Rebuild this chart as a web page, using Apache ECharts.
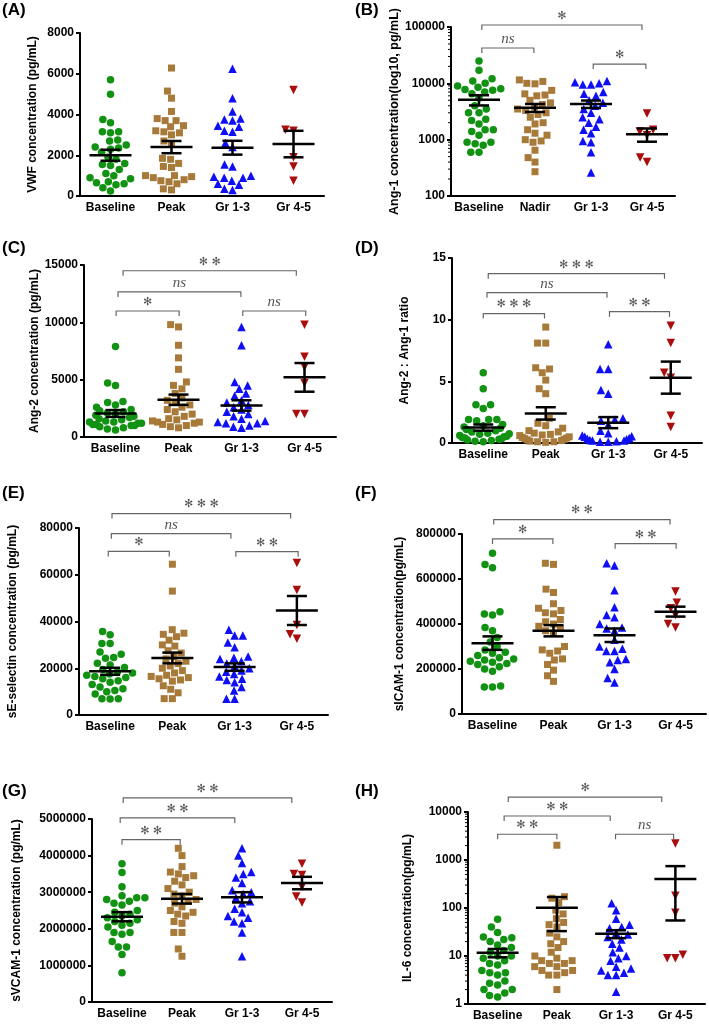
<!DOCTYPE html>
<html><head><meta charset="utf-8">
<script src="https://cdn.jsdelivr.net/npm/echarts@6/dist/echarts.min.js"></script>
<style>html,body{margin:0;padding:0;background:#fff}#c{width:709px;height:1027px}</style>
</head><body><div id="c"></div>
<script>
// ---------- categories ----------
const groupNames = ['Baseline', 'Peak', 'Gr 1-3', 'Gr 4-5'];
const groupNamesB = ['Baseline', 'Nadir', 'Gr 1-3', 'Gr 4-5'];

// ---------- (A) VWF ----------
const vwfBaseline = [5700, 5000, 3750, 3600, 3150, 3150, 3100, 2750, 2700, 2500, 2400, 2350, 2300, 2150, 1900, 1800, 1600, 1550, 1500, 1300, 1100, 1000, 900, 850, 700, 650, 600, 550, 400, 250];
const vwfPeak = [6280, 5150, 4800, 4150, 3800, 3700, 3700, 3450, 3400, 3200, 3150, 3100, 3000, 2700, 2550, 1850, 1800, 1600, 1450, 1400, 1000, 1000, 950, 900, 800, 750, 700, 600, 350, 300];
const vwfGr13 = [6250, 4800, 4150, 3800, 3750, 3700, 3450, 3400, 3200, 3150, 2600, 2400, 1550, 1450, 1000, 950, 900, 900, 750, 600, 550, 350, 300];
const vwfGr45 = [5200, 3250, 3200, 1900, 1450, 750];
const vwfMean = [2000, 2400, 2370, 2550];
const vwfSem = [270, 300, 340, 650];
const vwfTicks = [0, 8000, 2000];

// ---------- (B) Ang-1 ----------
const ang1Baseline = [25000, 17000, 12000, 11000, 9000, 10000, 7000, 6500, 8500, 8000, 7800, 7500, 5500, 4000, 3500, 3000, 3000, 2300, 2200, 1900, 1500, 1500, 1400, 1200, 900, 900, 850, 800, 600, 600];
const ang1Nadir = [11500, 10800, 10000, 9800, 7500, 6500, 6200, 6000, 5000, 4500, 4200, 3800, 3500, 3300, 3000, 2800, 2500, 2000, 1900, 1500, 1300, 1200, 1000, 950, 900, 650, 480, 400, 270];
const ang1Gr13 = [11000, 10500, 10000, 9500, 9500, 7000, 6500, 6000, 5000, 4500, 4000, 3500, 3000, 2500, 2300, 2000, 1700, 1500, 1300, 950, 900, 600, 260];
const ang1Gr45 = [2900, 1500, 1400, 1200, 480, 400];
const ang1Mean = [5100, 3700, 4300, 1250];
const ang1Sem = [1050, 600, 650, 330];
const ang1Ticks = [100, 100000];
const ang1Brackets = [[1.05, 3.91, 108500, '*'], [1.05, 1.98, 42400, 'ns'], [3.04, 3.98, 22000, '*']];

// ---------- (C) Ang-2 ----------
const ang2Baseline = [7900, 4700, 4500, 3100, 3000, 2800, 2600, 2400, 2300, 2200, 2100, 2000, 1900, 1800, 1700, 1600, 1500, 1400, 1300, 1300, 1200, 1200, 1100, 1100, 1000, 1000, 900, 800, 700, 600];
const ang2Peak = [9800, 9600, 8000, 6900, 5900, 4800, 4500, 4200, 3800, 3400, 3200, 3000, 2800, 2600, 2400, 2200, 2000, 1800, 1600, 1500, 1400, 1300, 1300, 1200, 1100, 1000, 900, 800];
const ang2Gr13 = [9600, 8000, 4800, 4500, 4200, 3800, 3600, 3200, 3000, 2800, 2600, 2400, 2200, 2000, 1800, 1600, 1400, 1300, 1200, 1200, 1000, 900, 800];
const ang2Gr45 = [9800, 7000, 6100, 4700, 2000, 2000];
const ang2Mean = [2050, 3250, 2750, 5200];
const ang2Sem = [300, 450, 450, 1250];
const ang2Ticks = [0, 15000, 5000];
const ang2Brackets = [[1.12, 3.87, 14500, '**'], [1.04, 2.99, 12650, 'ns'], [1.01, 2.01, 10990, '*'], [3.02, 4.02, 10990, 'ns']];

// ---------- (D) Ang-2 : Ang-1 ratio ----------
const ratioBaseline = [5.7, 4.4, 3.1, 3.1, 2.8, 1.9, 1.9, 1.9, 1.8, 1.5, 1.4, 1.3, 1.2, 1.1, 1.0, 0.9, 0.8, 0.75, 0.7, 0.6, 0.55, 0.5, 0.45, 0.4, 0.35, 0.3, 0.25, 0.2, 0.15, 0.1];
const ratioPeak = [9.4, 8.1, 8.1, 6.1, 6.0, 5.7, 5.1, 4.4, 4.0, 2.0, 1.6, 1.4, 1.2, 1.0, 0.9, 0.8, 0.7, 0.65, 0.6, 0.5, 0.45, 0.4, 0.35, 0.3, 0.25, 0.2, 0.15, 0.1, 0.1, 0.05];
const ratioGr13 = [8.0, 6.0, 6.0, 4.3, 4.0, 2.0, 1.9, 1.8, 1.5, 1.0, 0.8, 0.6, 0.55, 0.5, 0.4, 0.35, 0.3, 0.25, 0.2, 0.2, 0.15, 0.1, 0.1];
const ratioGr45 = [9.5, 8.1, 5.7, 5.3, 2.2, 1.3];
const ratioMean = [1.25, 2.4, 1.65, 5.3];
const ratioSem = [0.25, 0.5, 0.45, 1.3];
const ratioTicks = [0, 15, 5];
const ratioBrackets = [[1.08, 3.90, 13.73, '***'], [1.06, 2.98, 12.19, 'ns'], [1.0, 1.98, 10.49, '***'], [3.02, 3.98, 10.65, '**']];

// ---------- (E) sE-selectin ----------
const seBaseline = [35700, 34300, 30600, 30600, 26900, 26000, 24600, 24300, 22100, 21400, 20300, 19500, 18500, 18000, 17500, 17000, 16500, 16000, 15500, 14700, 14000, 13000, 12000, 11200, 10500, 10000, 9000, 7000, 7000, 6800];
const sePeak = [64500, 53000, 36500, 35000, 34500, 33500, 32000, 30000, 29500, 27500, 26500, 25000, 24000, 23000, 22000, 21000, 20000, 19000, 18000, 17000, 16500, 16000, 15500, 15000, 14500, 12500, 11000, 9500, 7000, 7000];
const seGr13 = [36500, 34000, 34000, 31000, 29000, 25000, 24500, 24000, 23000, 22000, 21000, 20000, 19000, 18500, 17500, 16500, 15500, 15000, 14000, 12000, 10500, 7000, 7000];
const seGr45 = [65000, 53500, 38500, 34500, 32600];
const seMean = [18700, 24400, 20500, 44700];
const seSem = [1500, 2300, 1600, 6200];
const seTicks = [0, 80000, 20000];
const seBrackets = [[1.03, 3.90, 86150, '***'], [1.02, 2.94, 77580, 'ns'], [0.97, 1.95, 70000, '*'], [3.02, 4.02, 69860, '**']];

// ---------- (F) sICAM-1 ----------
const icamBaseline = [715000, 665000, 650000, 455000, 445000, 440000, 385000, 370000, 340000, 320000, 300000, 285000, 275000, 270000, 260000, 250000, 245000, 240000, 235000, 230000, 225000, 220000, 210000, 200000, 190000, 125000, 120000, 120000];
const icamPeak = [670000, 665000, 555000, 540000, 490000, 470000, 460000, 450000, 445000, 420000, 410000, 400000, 390000, 380000, 370000, 360000, 300000, 285000, 280000, 270000, 245000, 240000, 220000, 195000, 170000, 145000];
const icamGr13 = [670000, 660000, 550000, 475000, 440000, 430000, 400000, 385000, 380000, 370000, 330000, 300000, 290000, 280000, 280000, 245000, 240000, 230000, 200000, 160000, 140000];
const icamGr45 = [545000, 495000, 470000, 440000, 400000, 385000];
const icamMean = [315000, 370000, 350000, 455000];
const icamSem = [30000, 25000, 30000, 22000];
const icamTicks = [0, 800000, 200000];
const icamBrackets = [[1.02, 3.91, 864000, '**'], [1.0, 1.99, 778000, '*'], [3.01, 4.01, 757000, '**']];

// ---------- (G) sVCAM-1 ----------
const vcamBaseline = [3780000, 3540000, 3150000, 2900000, 2850000, 2850000, 2800000, 2750000, 2700000, 2650000, 2500000, 2450000, 2400000, 2350000, 2300000, 2250000, 2200000, 2150000, 2100000, 2050000, 1900000, 1900000, 1850000, 1650000, 1500000, 1500000, 1300000, 800000];
const vcamPeak = [4200000, 4000000, 3700000, 3550000, 3500000, 3450000, 3400000, 3300000, 3200000, 3100000, 3000000, 2950000, 2900000, 2800000, 2750000, 2700000, 2600000, 2500000, 2450000, 2400000, 2350000, 2200000, 2150000, 1900000, 1900000, 1450000, 1250000];
const vcamGr13 = [4200000, 4000000, 3800000, 3550000, 3500000, 3400000, 3250000, 3050000, 3000000, 2950000, 2850000, 2750000, 2700000, 2550000, 2450000, 2350000, 2300000, 2200000, 2150000, 1900000, 1250000];
const vcamGr45 = [3780000, 3500000, 3470000, 3150000, 2880000, 2720000];
const vcamMean = [2330000, 2820000, 2860000, 3250000];
const vcamSem = [125000, 130000, 140000, 170000];
const vcamTicks = [0, 5000000, 1000000];
const vcamBrackets = [[1.02, 3.83, 5577000, '**'], [0.97, 2.88, 5029000, '**'], [1.0, 1.97, 4434000, '**']];

// ---------- (H) IL-6 ----------
const il6Baseline = [58, 40, 31, 25, 24, 22, 20, 17, 15, 13, 12, 10, 10, 9, 8, 7, 6.5, 5, 4.5, 4.5, 4, 3, 2.7, 2.5, 2, 2, 1.7, 1.5, 1.4];
const il6Peak = [2030, 172, 160, 130, 90, 75, 60, 50, 45, 40, 30, 25, 20, 18, 15, 12, 10, 9, 8, 8, 7, 7, 6, 6, 5, 5, 4.5, 4, 4, 2];
const il6Gr13 = [125, 90, 60, 45, 40, 38, 30, 28, 25, 22, 18, 15, 12, 10, 9, 8, 6, 5.5, 5, 4.5, 4, 4, 1.8];
const il6Gr45 = [2200, 180, 80, 10.6, 9, 9];
const il6Mean = [11.7, 101, 29, 400];
const il6Sem = [2.3, 68, 5.5, 345];
const il6Ticks = [1, 10000];
const il6Brackets = [[1.18, 3.77, 20470, '*'], [1.11, 2.90, 8260, '**'], [1.0, 2.0, 3440, '**'], [2.99, 3.97, 3440, 'ns']];

// ---------- panel definitions (layout & styling) ----------
const FONT = '"Liberation Sans", Arial, sans-serif';
const panels = [
  {label: '(A)', lx: 2, ly: 2, cats: groupNames, groups: [vwfBaseline, vwfPeak, vwfGr13, vwfGr45], mean: vwfMean, sem: vwfSem,
   yName: 'VWF concentration (pg/mL)', nameGap: 41, log: false, ticks: vwfTicks, brackets: [], grid: {left: 80, top: 33, width: 244, height: 163}},
  {label: '(B)', lx: 355, ly: 2, cats: groupNamesB, groups: [ang1Baseline, ang1Nadir, ang1Gr13, ang1Gr45], mean: ang1Mean, sem: ang1Sem,
   yName: 'Ang-1 concentration(log10, pg/mL)', nameGap: 48, log: true, ticks: ang1Ticks, brackets: ang1Brackets, grid: {left: 451, top: 27, width: 224, height: 169}},
  {label: '(C)', lx: 2, ly: 240, cats: groupNames, groups: [ang2Baseline, ang2Peak, ang2Gr13, ang2Gr45], mean: ang2Mean, sem: ang2Sem,
   yName: 'Ang-2 concentration (pg/mL)', nameGap: 40, log: false, ticks: ang2Ticks, brackets: ang2Brackets, grid: {left: 84, top: 265, width: 252, height: 172}},
  {label: '(D)', lx: 355, ly: 240, cats: groupNames, groups: [ratioBaseline, ratioPeak, ratioGr13, ratioGr45], mean: ratioMean, sem: ratioSem,
   yName: 'Ang-2 : Ang-1 ratio', nameGap: 41, log: false, ticks: ratioTicks, brackets: ratioBrackets, grid: {left: 452, top: 258, width: 250, height: 185}},
  {label: '(E)', lx: 2, ly: 485, cats: groupNames, groups: [seBaseline, sePeak, seGr13, seGr45], mean: seMean, sem: seSem,
   yName: 'sE-selectin concentration (pg/mL)', nameGap: 60, log: false, ticks: seTicks, brackets: seBrackets, grid: {left: 79, top: 528, width: 249, height: 187}},
  {label: '(F)', lx: 355, ly: 485, cats: groupNames, groups: [icamBaseline, icamPeak, icamGr13, icamGr45], mean: icamMean, sem: icamSem,
   yName: 'sICAM-1 concentration(pg/mL)', nameGap: 56, log: false, ticks: icamTicks, brackets: icamBrackets, grid: {left: 462, top: 534, width: 244, height: 180}},
  {label: '(G)', lx: 2, ly: 783, cats: groupNames, groups: [vcamBaseline, vcamPeak, vcamGr13, vcamGr45], mean: vcamMean, sem: vcamSem,
   yName: 'sVCAM-1 concentration (pg/mL)', nameGap: 69, log: false, ticks: vcamTicks, brackets: vcamBrackets, grid: {left: 92, top: 819, width: 240, height: 183}},
  {label: '(H)', lx: 355, ly: 783, cats: groupNames, groups: [il6Baseline, il6Peak, il6Gr13, il6Gr45], mean: il6Mean, sem: il6Sem,
   yName: 'IL-6 concentration(pg/mL)', nameGap: 54, log: true, ticks: il6Ticks, brackets: il6Brackets, grid: {left: 468, top: 812, width: 237, height: 192}}
];

const groupStyles = [
  {color: '#129212', symbol: 'circle', size: 7.5, rotate: 0},
  {color: '#a87a3a', symbol: 'rect', size: 7, rotate: 0},
  {color: '#0f0ff5', symbol: 'triangle', size: 8.5, rotate: 0},
  {color: '#a90d0d', symbol: 'triangle', size: 8.5, rotate: 180}
];
const DIAM = 8.2;
const MAX_HALF = 26;

const chart = echarts.init(document.getElementById('c'), null, {renderer: 'canvas'});
const option = {animation: false, backgroundColor: '#fff', title: [], grid: [], xAxis: [], yAxis: [], series: []};
const scatterMeta = [];

panels.forEach((p, k) => {
  option.title.push({text: p.label, left: p.lx, top: p.ly, padding: 0,
    textStyle: {fontSize: 17, fontWeight: 'bold', fontFamily: FONT, color: '#000'}});
  option.grid.push(Object.assign({}, p.grid));
  option.xAxis.push({type: 'category', gridIndex: k, data: p.cats, boundaryGap: true,
    axisLine: {lineStyle: {color: '#000', width: 2}},
    axisTick: {alignWithLabel: true, length: 4, lineStyle: {color: '#000', width: 2}},
    axisLabel: {color: '#000', fontWeight: 'bold', fontSize: 12, fontFamily: FONT, margin: 6, interval: 0},
    splitLine: {show: false}});
  option.xAxis.push({type: 'value', gridIndex: k, min: 0.5, max: 4.5, show: false});
  const y = {gridIndex: k, name: p.yName, nameLocation: 'middle', nameRotate: 90, nameGap: p.nameGap,
    nameTextStyle: {color: '#000', fontWeight: 'bold', fontSize: k === 1 ? 12.5 : 12, fontFamily: FONT},
    axisLine: {show: true, lineStyle: {color: '#000', width: 2}},
    axisTick: {show: true, length: 4, lineStyle: {color: '#000', width: 2}},
    axisLabel: {color: '#000', fontWeight: 'bold', fontSize: 12, fontFamily: FONT, margin: 6, formatter: v => String(v)},
    splitLine: {show: false}};
  if (p.log) {
    Object.assign(y, {type: 'log', logBase: 10, min: p.ticks[0], max: p.ticks[1]});
  } else {
    Object.assign(y, {type: 'value', min: p.ticks[0], max: p.ticks[1], interval: p.ticks[2]});
  }
  option.yAxis.push(y);

  // scatter points
  p.groups.forEach((vals, g) => {
    const st = groupStyles[g];
    const id = 's' + k + '_' + g;
    scatterMeta.push({id, seriesIndex: option.series.length, g: g + 1, vals});
    option.series.push({type: 'scatter', id, xAxisIndex: 2 * k + 1, yAxisIndex: k,
      data: vals.map(v => [g + 1, v]), symbol: st.symbol, symbolSize: st.size, symbolRotate: st.rotate,
      itemStyle: {color: st.color, opacity: 1}, z: 2, silent: true});
  });

  // mean ± SEM bars
  option.series.push({type: 'custom', xAxisIndex: 2 * k + 1, yAxisIndex: k, z: 3, silent: true,
    data: p.mean.map((m, g) => [g + 1, m]),
    renderItem: (params, api) => {
      const i = params.dataIndex;
      const c = api.coord([i + 1, p.mean[i]]);
      const hi = api.coord([i + 1, p.mean[i] + p.sem[i]]);
      const lo = api.coord([i + 1, p.mean[i] - p.sem[i]]);
      const st = {stroke: '#000', lineWidth: 2.5};
      return {type: 'group', children: [
        {type: 'line', shape: {x1: c[0] - 21, y1: c[1], x2: c[0] + 21, y2: c[1]}, style: st},
        {type: 'line', shape: {x1: c[0], y1: hi[1], x2: c[0], y2: lo[1]}, style: st},
        {type: 'line', shape: {x1: c[0] - 10, y1: hi[1], x2: c[0] + 10, y2: hi[1]}, style: st},
        {type: 'line', shape: {x1: c[0] - 10, y1: lo[1], x2: c[0] + 10, y2: lo[1]}, style: st}
      ]};
    }});

  // significance brackets
  if (p.brackets.length) {
    option.series.push({type: 'custom', xAxisIndex: 2 * k + 1, yAxisIndex: k, z: 4, silent: true, clip: false,
      data: p.brackets.map(b => [b[0], b[2]]),
      renderItem: (params, api) => {
        const b = p.brackets[params.dataIndex];
        const a = api.coord([b[0], b[2]]);
        const e = api.coord([b[1], b[2]]);
        const isNs = b[3] === 'ns';
        const txt = isNs ? 'ns' : b[3].split('').map(() => '\u273B').join(' ');
        return {type: 'group', children: [
          {type: 'polyline', shape: {points: [[a[0], a[1] + 5], [a[0], a[1]], [e[0], e[1]], [e[0], e[1] + 5]]},
           style: {stroke: '#666', lineWidth: 1.2, fill: null}},
          {type: 'text', x: (a[0] + e[0]) / 2, y: a[1] - 9,
           style: {text: txt, fill: '#555', align: 'center', verticalAlign: 'middle',
             font: isNs ? 'italic 15px "Liberation Serif", serif' : '11px "DejaVu Sans", sans-serif'}}
        ]};
      }});
  }

  // log minor ticks
  if (p.log) {
    const minor = [];
    for (let d = p.ticks[0]; d < p.ticks[1]; d *= 10) {
      for (let m = 2; m <= 9; m++) minor.push([0.5, d * m]);
    }
    option.series.push({type: 'custom', xAxisIndex: 2 * k + 1, yAxisIndex: k, z: 1, silent: true, clip: false,
      data: minor,
      renderItem: (params, api) => {
        const c = api.coord([0.5, minor[params.dataIndex][1]]);
        return {type: 'line', shape: {x1: c[0] - 3, y1: c[1], x2: c[0], y2: c[1]}, style: {stroke: '#000', lineWidth: 1}};
      }});
  }
});

chart.setOption(option);

// ---------- beeswarm horizontal arrangement ----------
function swarm(ys, D) {
  const order = ys.map((y, i) => i).sort((a, b) => ys[b] - ys[a]);
  const placed = [];
  const dx = new Array(ys.length).fill(0);
  for (const i of order) {
    const y = ys[i];
    const iv = [];
    for (const q of placed) {
      const dy = Math.abs(q.y - y);
      if (dy < D) { const w = Math.sqrt(D * D - dy * dy); iv.push([q.x - w, q.x + w]); }
    }
    const cands = [0];
    iv.forEach(([a, b]) => cands.push(a, b));
    cands.sort((a, b) => Math.abs(a) - Math.abs(b) || a - b);
    let best = 0;
    for (const c of cands) {
      if (iv.every(([a, b]) => c <= a + 1e-6 || c >= b - 1e-6)) { best = c; break; }
    }
    dx[i] = best;
    placed.push({x: best, y});
  }
  // keep the swarm within the category band
  const w = Math.max(...dx.map(Math.abs));
  if (w > MAX_HALF) {
    const knee = MAX_HALF * 0.6;
    for (let i = 0; i < dx.length; i++) {
      const a = Math.abs(dx[i]);
      if (a > knee) dx[i] = Math.sign(dx[i]) * (knee + (a - knee) * (MAX_HALF - knee) / (w - knee));
    }
  }
  return dx;
}

const updates = scatterMeta.map(m => {
  const ys = m.vals.map(v => chart.convertToPixel({seriesIndex: m.seriesIndex}, [m.g, v])[1]);
  const x1 = chart.convertToPixel({seriesIndex: m.seriesIndex}, [1, m.vals[0]])[0];
  const x2 = chart.convertToPixel({seriesIndex: m.seriesIndex}, [2, m.vals[0]])[0];
  const sp = x2 - x1;
  const dx = swarm(ys, DIAM);
  return {id: m.id, data: m.vals.map((v, i) => [m.g + dx[i] / sp, v])};
});
chart.setOption({series: updates});
</script>
</body></html>
